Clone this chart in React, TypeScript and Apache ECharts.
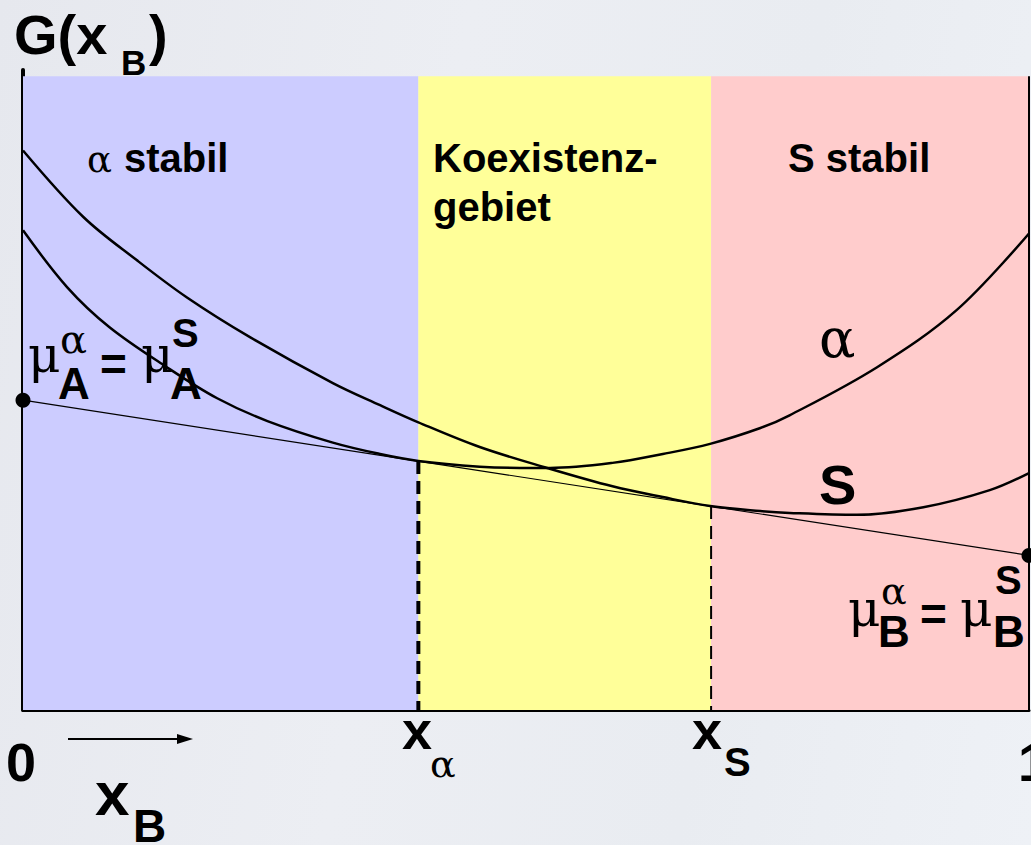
import React, { useEffect, useRef } from "react";
import * as echarts from "echarts";

// Composition x_B (0..1) and molar Gibbs energy G (arbitrary units)
const xAlphaPhase = [0, 0.044, 0.086, 0.143, 0.193, 0.243, 0.308, 0.355, 0.393, 0.454, 0.494, 0.524, 0.586, 0.636, 0.683, 0.733, 0.762, 0.849, 0.928, 1.0];
const gAlphaPhase = [75.7, 66.7, 60.4, 54.1, 49.2, 45.6, 42.2, 40.4, 39.3, 38.4, 38.2, 38.2, 39.0, 40.4, 42.0, 44.5, 46.5, 54.1, 63.1, 75.2];

const xSPhase = [0, 0.06, 0.113, 0.163, 0.226, 0.308, 0.355, 0.393, 0.454, 0.521, 0.586, 0.636, 0.683, 0.733, 0.762, 0.829, 0.895, 0.961, 1.0];
const gSPhase = [88.3, 77.8, 71.0, 65.1, 58.8, 51.6, 48.1, 45.4, 41.5, 38.2, 35.3, 33.6, 32.2, 31.4, 31.1, 30.8, 32.0, 34.7, 37.4];

// Common tangent: chemical potentials at x_B = 0 and x_B = 1
const tangentX = [0, 1];
const tangentG = [48.9, 24.4];

// Phase boundaries (tangent points)
const xAlpha = 0.393;
const xS = 0.684;
const gAtXAlpha = 39.3;
const gAtXS = 32.2;

const regionColors = ["#ccccff", "#ffff99", "#ffcccc"];
const gTop = 100;

const SANS = '"Liberation Sans", Arial, sans-serif';
const GREEK = '"DejaVu Serif", "Liberation Serif", serif';

// text placed by its alphabetic baseline
function label(text: string, x: number, baseline: number, size: number, greek = false) {
  const k = greek ? 0.36 : 0.37;
  return {
    type: "text",
    x,
    y: baseline - k * size,
    z: 10,
    style: {
      text,
      fontFamily: greek ? GREEK : SANS,
      fontSize: size,
      fontWeight: greek ? "normal" : "bold",
      fill: "#000",
      align: "left",
      verticalAlign: "middle",
    },
  };
}

const zip = (xs: number[], ys: number[]) => xs.map((x, i) => [x, ys[i]]);

export default function App() {
  const ref = useRef<HTMLDivElement>(null);

  useEffect(() => {
    if (!ref.current) return;
    const chart = echarts.init(ref.current, null, { renderer: "svg" });

    const option = {
      animation: false,
      backgroundColor: "transparent",
      grid: { left: 23, right: 2, top: 70, bottom: 135 },
      xAxis: {
        type: "value",
        min: 0,
        max: 1,
        axisLine: { show: true, onZero: false, lineStyle: { color: "#000", width: 3 } },
        axisTick: { show: false },
        axisLabel: { show: false },
        splitLine: { show: false },
      },
      yAxis: {
        type: "value",
        min: 0,
        max: 101,
        axisLine: { show: true, onZero: false, lineStyle: { color: "#000", width: 4 } },
        axisTick: { show: false },
        axisLabel: { show: false },
        splitLine: { show: false },
      },
      series: [
        {
          type: "line",
          z: 1,
          data: [],
          silent: true,
          markArea: {
            silent: true,
            data: [
              [{ xAxis: 0, yAxis: 0, itemStyle: { color: regionColors[0] } }, { xAxis: xAlpha, yAxis: gTop }],
              [{ xAxis: xAlpha, yAxis: 0, itemStyle: { color: regionColors[1] } }, { xAxis: xS, yAxis: gTop }],
              [{ xAxis: xS, yAxis: 0, itemStyle: { color: regionColors[2] } }, { xAxis: 1, yAxis: gTop }],
            ],
          },
        },
        {
          name: "frame",
          type: "line",
          z: 3,
          data: [[1, 0], [1, gTop]],
          showSymbol: false,
          lineStyle: { color: "#000", width: 2 },
        },
        {
          name: "xAlphaMark",
          type: "line",
          z: 3,
          data: [[xAlpha, gAtXAlpha], [xAlpha, 0]],
          showSymbol: false,
          lineStyle: { color: "#000", width: 4, type: [13, 7] },
        },
        {
          name: "xSMark",
          type: "line",
          z: 3,
          data: [[xS, gAtXS], [xS, 0]],
          showSymbol: false,
          lineStyle: { color: "#000", width: 2, type: [13, 7] },
        },
        {
          name: "alpha",
          type: "line",
          z: 4,
          smooth: 0.35,
          data: zip(xAlphaPhase, gAlphaPhase),
          showSymbol: false,
          lineStyle: { color: "#000", width: 2.5 },
        },
        {
          name: "S",
          type: "line",
          z: 4,
          smooth: 0.35,
          data: zip(xSPhase, gSPhase),
          showSymbol: false,
          lineStyle: { color: "#000", width: 2.5 },
        },
        {
          name: "tangent",
          type: "line",
          z: 5,
          data: zip(tangentX, tangentG),
          symbol: "circle",
          symbolSize: 15,
          showSymbol: true,
          itemStyle: { color: "#000" },
          lineStyle: { color: "#000", width: 1.2 },
        },
      ],
      graphic: [
        // G(x_B)
        label("G(x", 14, 55, 56),
        label("B", 121, 75, 35),
        label(")", 149, 55, 56),
        // region titles
        label("α", 87, 173, 37, true),
        label("stabil", 124, 173, 40),
        label("Koexistenz-", 433, 173, 40),
        label("gebiet", 433, 222, 40),
        label("S stabil", 788, 173, 40),
        // curve names
        label("α", 819, 358, 54, true),
        label("S", 819, 505, 56),
        // μ_A^α = μ_A^S
        label("μ", 28, 373, 50, true),
        label("α", 60, 353, 40, true),
        label("A", 58, 400, 44),
        label("=", 100, 381, 46),
        label("μ", 141, 373, 50, true),
        label("S", 172, 348, 40),
        label("A", 170, 400, 44),
        // μ_B^α = μ_B^S
        label("μ", 848, 627, 50, true),
        label("α", 881, 605, 38, true),
        label("B", 878, 648, 44),
        label("=", 920, 631, 46),
        label("μ", 960, 627, 50, true),
        label("S", 995, 595, 40),
        label("B", 993, 648, 44),
        // axis annotations
        label("0", 6, 782, 54),
        label("x", 95, 816, 62),
        label("B", 133, 843, 46),
        label("x", 402, 750, 54),
        label("α", 430, 778, 38, true),
        label("x", 692, 750, 54),
        label("S", 724, 777, 40),
        label("1", 1018, 782, 54),
        // direction arrow
        {
          type: "line",
          z: 10,
          shape: { x1: 68, y1: 739, x2: 182, y2: 739 },
          style: { stroke: "#000", lineWidth: 2 },
        },
        {
          type: "polygon",
          z: 10,
          shape: { points: [[177, 734], [193, 739], [177, 744]] },
          style: { fill: "#000" },
        },
      ],
    };

    chart.setOption(option as any);
    return () => chart.dispose();
  }, []);

  return (
    <div
      style={{
        position: "absolute",
        left: 0,
        top: 0,
        width: 1031,
        height: 845,
        background: "linear-gradient(100deg, #e6e8ee 0%, #eceef3 40%, #e9ecf1 70%, #eef1f6 100%)",
      }}
    >
      <div ref={ref} style={{ width: 1031, height: 845 }} />
    </div>
  );
}
